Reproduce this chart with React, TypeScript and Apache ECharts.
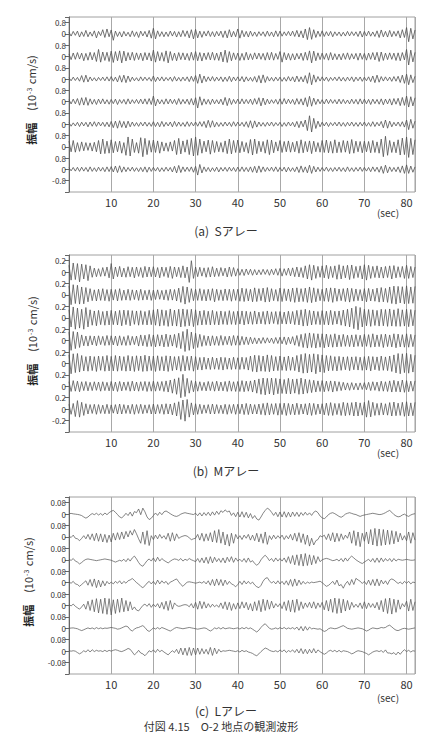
import React, { useEffect, useRef } from 'react';
import * as echarts from 'echarts';

// time axis
const TIME_STEP = 0.5; // seconds between samples
const X_MAX = 82;
const X_INTERVAL = 10;

// ---------- (a) Sアレー : values in 0.01 ×10^-3 cm/s ----------
const S1 = [
  12,-15,18,-10,20,-22,15,-18,25,-20,14,-16,22,-28,18,-12,30,-25,35,-20,
  28,-45,20,-18,15,-22,18,-15,12,-20,22,-18,15,-25,20,-14,18,-22,25,-30,
  40,-35,22,-18,16,-20,14,-18,20,-15,18,-22,16,-20,25,-18,22,-28,30,-35,
  32,-28,20,-24,18,-15,22,-18,16,-20,18,-14,20,-25,22,-28,30,-22,18,-20,
  35,-30,25,-20,18,-22,20,-16,14,-18,16,-12,15,-18,20,-16,14,-20,22,-18,
  20,-16,15,-12,18,-14,20,-18,25,-22,22,-28,35,-40,45,-38,30,-25,20,-18,
  22,-18,16,-14,18,-20,15,-12,14,-16,12,-15,18,-14,16,-12,15,-18,20,-22,
  18,-15,20,-16,14,-18,22,-25,28,-20,18,-22,25,-20,18,-16,22,-28,30,-25,
  45,-55,40,-35,28,
];
const S2 = [
  18,-22,25,-20,28,-18,24,-30,22,-26,30,-24,28,-35,50,-40,32,-28,30,-35,
  38,-42,35,-30,40,-45,38,-32,28,-25,30,-28,26,-22,24,-30,28,-24,26,-32,
  45,-40,35,-30,28,-34,40,-45,35,-28,24,-30,28,-22,26,-24,22,-28,30,-26,
  35,-30,28,-32,25,-22,28,-24,30,-26,24,-28,32,-38,45,-42,35,-30,26,-22,
  24,-28,22,-26,30,-24,20,-22,26,-18,24,-20,22,-26,28,-24,30,-26,22,-20,
  35,-40,28,-24,22,-26,20,-24,22,-18,24,-28,30,-26,40,-45,38,-30,26,-22,
  24,-20,22,-26,28,-24,20,-22,18,-24,22,-20,26,-22,20,-18,22,-26,24,-20,
  22,-26,24,-20,28,-24,30,-35,32,-28,24,-22,26,-20,24,-28,26,-30,28,-24,
  50,-60,45,-38,30,
];
const S3 = [
  10,-12,14,-10,12,-15,25,-22,28,-20,15,-12,10,-14,12,-10,14,-12,16,-14,
  18,-15,14,-20,25,-22,28,-25,22,-18,14,-12,10,-14,16,-12,14,-10,12,-15,
  22,-18,14,-12,16,-14,12,-10,14,-16,18,-14,12,-15,14,-12,16,-18,20,-16,
  25,-30,35,-28,22,-18,16,-14,18,-15,14,-12,16,-18,14,-16,20,-18,15,-12,
  16,-14,18,-20,16,-14,12,-16,18,-22,25,-28,30,-24,18,-14,12,-15,14,-12,
  14,-16,12,-15,18,-14,16,-20,22,-18,16,-20,25,-30,45,-40,30,-22,18,-14,
  16,-12,14,-16,12,-10,14,-12,16,-14,12,-15,14,-12,16,-18,14,-12,15,-16,
  14,-12,16,-18,22,-25,28,-22,18,-14,16,-12,14,-16,18,-15,20,-24,28,-30,
  35,-40,30,-25,20,
];
const S4 = [
  14,-16,18,-15,22,-25,28,-24,30,-26,20,-18,16,-20,18,-15,20,-16,14,-18,
  16,-14,18,-20,15,-12,16,-18,20,-16,14,-12,16,-14,18,-16,20,-18,22,-20,
  40,-30,18,-16,14,-18,20,-16,18,-14,16,-20,22,-18,16,-14,18,-20,22,-24,
  28,-45,35,-25,20,-18,16,-20,18,-15,14,-16,18,-22,30,-28,24,-20,16,-14,
  18,-16,20,-15,16,-14,18,-20,22,-18,28,-30,26,-22,18,-16,14,-12,16,-18,
  20,-18,22,-16,18,-14,16,-20,22,-18,20,-24,28,-35,38,-32,25,-20,18,-15,
  14,-16,18,-14,16,-12,14,-16,18,-15,16,-14,12,-16,18,-14,16,-18,20,-16,
  18,-15,16,-20,18,-14,16,-18,20,-22,18,-16,20,-24,22,-18,24,-28,30,-26,
  40,-38,35,-30,28,
];
const S5 = [
  12,-14,10,-12,14,-16,15,-12,14,-18,16,-14,18,-15,16,-12,14,-16,15,-18,
  20,-24,22,-28,25,-22,20,-26,22,-18,16,-14,12,-15,14,-12,16,-14,12,-15,
  18,-16,14,-18,20,-16,14,-12,16,-18,20,-15,16,-14,12,-16,18,-15,14,-12,
  16,-14,18,-15,20,-24,28,-22,25,-20,14,-16,12,-14,16,-12,14,-16,18,-14,
  15,-12,14,-16,18,-22,25,-28,24,-20,16,-14,12,-15,14,-12,16,-14,12,-10,
  14,-16,12,-14,16,-12,14,-18,20,-24,22,-18,30,-45,60,-55,42,-30,22,-18,
  15,-12,14,-16,12,-10,14,-12,16,-14,12,-15,14,-12,16,-14,12,-15,14,-12,
  16,-14,12,-15,18,-16,14,-12,20,-25,30,-28,22,-18,14,-12,16,-15,18,-20,
  30,-38,35,-28,22,
];
const S6 = [
  40,-35,45,-38,30,-32,35,-28,30,-25,28,-30,32,-35,45,-50,55,-48,40,-45,
  50,-42,38,-35,40,-45,30,-60,70,-65,55,-40,30,-45,65,-70,60,-55,45,-38,
  48,-40,42,-45,35,-30,28,-32,35,-30,45,-55,60,-50,42,-38,50,-55,60,-65,
  70,-60,55,-45,40,-35,48,-52,45,-40,38,-35,30,-38,42,-48,55,-50,45,-40,
  48,-42,38,-35,30,-45,52,-58,55,-48,40,-35,38,-45,50,-55,48,-42,35,-30,
  45,-40,38,-35,42,-38,32,-35,40,-45,50,-42,38,-35,42,-48,40,-35,30,-38,
  45,-40,48,-42,38,-45,50,-42,35,-40,45,-38,42,-48,52,-45,40,-35,38,-42,
  40,-35,38,-42,45,-40,35,-45,55,-70,75,-60,45,-40,35,-42,50,-58,62,-55,
  70,-75,60,-55,50,
];
const S7 = [
  12,-10,14,-12,15,-14,16,-12,14,-16,18,-14,12,-15,16,-12,14,-16,18,-15,
  20,-18,24,-22,26,-20,18,-16,14,-12,16,-14,12,-15,14,-16,18,-20,16,-14,
  15,-12,14,-16,12,-14,16,-12,14,-18,22,-25,28,-22,18,-15,16,-14,18,-20,
  22,-40,35,-25,18,-15,14,-16,12,-14,16,-18,14,-12,15,-14,16,-12,14,-15,
  16,-14,18,-15,14,-16,18,-20,22,-24,25,-20,18,-15,14,-12,16,-14,18,-16,
  14,-12,16,-18,15,-14,12,-16,18,-22,25,-20,18,-24,30,-28,22,-18,16,-14,
  14,-12,16,-14,12,-15,14,-12,16,-14,12,-16,18,-14,12,-15,14,-12,16,-14,
  15,-12,14,-16,18,-14,16,-20,22,-28,30,-24,18,-15,14,-16,18,-22,25,-28,
  32,-28,24,-20,18,
];

// ---------- (b) Mアレー : values in 0.001 ×10^-3 cm/s ----------
const M1 = [
  120,-140,160,-130,150,-170,140,-120,130,-150,110,-90,70,-80,60,-75,80,-70,90,-100,
  150,-120,90,-80,100,-85,70,-90,95,-80,85,-100,90,-75,80,-95,100,-85,90,-80,
  95,-85,80,-100,90,-75,85,-95,100,-110,90,-80,85,-95,110,-100,90,-180,200,-110,
  90,-80,85,-70,75,-90,80,-85,95,-80,70,-75,80,-65,70,-85,90,-75,80,-70,
  60,-55,50,-60,55,-45,50,-55,45,-50,40,-45,50,-40,45,-55,50,-45,60,-55,
  65,-70,60,-55,70,-65,75,-80,90,-85,80,-95,110,-120,130,-140,120,-110,100,-90,
  110,-100,120,-115,100,-95,110,-125,130,-120,110,-100,120,-130,125,-110,100,-95,110,-120,
  130,-140,120,-110,100,-95,110,-100,90,-105,100,-95,110,-120,115,-100,95,-90,100,-110,
  120,-110,100,-95,90,
];
const M2 = [
  160,-170,180,-150,170,-160,140,-155,130,-120,110,-100,90,-105,100,-95,110,-100,95,-110,
  100,-90,95,-105,110,-95,85,-90,100,-95,90,-80,85,-95,100,-90,80,-85,90,-95,
  85,-80,90,-75,80,-85,90,-95,100,-90,95,-105,120,-130,150,-160,140,-130,110,-100,
  100,-95,110,-100,95,-105,100,-95,110,-120,100,-95,90,-100,105,-95,100,-110,100,-95,
  100,-110,120,-115,110,-105,100,-120,125,-115,110,-100,120,-125,130,-120,110,-100,95,-110,
  120,-115,110,-100,105,-115,120,-130,125,-120,110,-115,120,-130,140,-135,125,-120,110,-100,
  100,-110,120,-115,125,-130,120,-110,105,-100,110,-115,120,-125,115,-110,105,-100,95,-105,
  110,-120,115,-105,100,-110,120,-125,130,-120,115,-130,140,-150,155,-160,150,-140,145,-155,
  160,-150,140,-145,150,
];
const M3 = [
  140,-160,190,-200,170,-180,150,-200,180,-160,140,-130,120,-140,130,-120,110,-130,120,-125,
  130,-120,115,-125,130,-140,135,-120,130,-140,125,-115,120,-130,125,-120,110,-125,130,-120,
  140,-130,150,-145,140,-135,130,-150,155,-140,135,-145,150,-160,155,-150,145,-140,150,-155,
  140,-130,120,-125,130,-120,115,-125,130,-120,110,-125,120,-115,110,-120,125,-115,110,-120,
  115,-110,120,-125,115,-110,105,-115,120,-110,100,-105,110,-115,120,-110,105,-100,110,-115,
  110,-105,100,-110,115,-105,110,-120,130,-125,140,-145,150,-140,130,-125,120,-115,110,-120,
  125,-120,115,-125,130,-120,115,-110,120,-130,135,-145,150,-160,170,-190,200,-210,180,-160,
  150,-140,145,-150,140,-135,130,-145,150,-140,145,-150,155,-145,140,-150,160,-150,140,-145,
  150,-155,145,-140,135,
];
const M4 = [
  150,-170,160,-140,150,-120,100,-90,80,-95,85,-75,80,-90,85,-70,75,-85,90,-80,
  85,-75,80,-90,85,-80,70,-85,90,-80,75,-70,80,-95,100,-90,95,-105,110,-100,
  100,-110,105,-95,100,-110,115,-105,100,-95,110,-120,130,-140,160,-190,200,-170,150,-140,
  130,-120,110,-100,90,-85,80,-90,85,-80,75,-85,90,-80,75,-70,80,-85,90,-80,
  85,-80,75,-70,65,-70,60,-55,50,-55,45,-50,55,-45,50,-40,45,-50,55,-50,
  60,-55,65,-70,60,-55,70,-80,90,-100,110,-120,125,-130,135,-120,125,-130,120,-115,
  120,-125,115,-110,105,-115,120,-110,100,-105,110,-100,95,-105,100,-110,105,-100,95,-105,
  110,-100,105,-115,120,-110,100,-105,110,-120,115,-105,100,-110,120,-125,115,-110,105,-115,
  120,-115,110,-105,100,
];
const M5 = [
  150,-180,170,-160,175,-150,140,-130,120,-135,130,-125,120,-140,130,-120,125,-135,140,-130,
  125,-130,140,-135,130,-125,120,-135,140,-130,125,-140,135,-125,130,-140,145,-135,130,-125,
  130,-140,135,-125,120,-130,135,-140,130,-125,120,-115,125,-135,140,-130,125,-120,130,-135,
  120,-110,105,-115,110,-100,95,-105,110,-100,95,-105,110,-115,105,-100,95,-105,110,-100,
  100,-105,110,-100,105,-115,130,-140,145,-150,140,-135,130,-140,150,-145,140,-130,120,-125,
  130,-120,115,-125,130,-120,110,-125,140,-150,160,-170,175,-165,160,-150,170,-180,160,-150,
  150,-160,140,-130,135,-125,120,-130,125,-120,115,-110,120,-125,115,-110,120,-115,110,-120,
  120,-115,125,-130,120,-110,115,-125,130,-120,115,-125,130,-140,150,-165,175,-180,170,-160,
  180,-170,160,-150,145,
];
const M6 = [
  80,-90,100,-85,90,-95,80,-75,85,-80,70,-75,80,-70,75,-85,80,-75,70,-80,
  85,-80,75,-90,85,-80,75,-70,80,-85,90,-80,75,-85,80,-75,85,-90,80,-85,
  90,-85,80,-75,85,-90,95,-100,110,-120,130,-140,150,-200,210,-180,140,-120,100,-95,
  90,-85,80,-75,70,-80,85,-75,80,-85,90,-80,75,-80,85,-90,95,-85,80,-90,
  85,-90,100,-95,90,-85,95,-100,110,-120,130,-140,145,-150,140,-135,145,-150,140,-130,
  130,-125,120,-130,140,-135,125,-120,130,-140,145,-135,125,-120,115,-110,105,-100,95,-90,
  100,-95,90,-85,95,-100,90,-85,80,-75,70,-65,60,-70,65,-60,55,-65,60,-55,
  65,-60,70,-75,80,-70,75,-85,90,-85,80,-90,95,-100,105,-95,90,-100,110,-105,
  100,-95,90,-85,95,
];
const M7 = [
  85,-90,100,-130,150,-140,120,-110,95,-85,80,-75,85,-90,80,-75,70,-80,85,-80,
  75,-70,80,-85,90,-85,80,-75,70,-80,85,-90,80,-75,85,-80,75,-70,80,-85,
  90,-85,80,-75,85,-90,95,-85,90,-100,110,-120,130,-180,160,-210,170,-140,110,-100,
  95,-90,85,-80,75,-70,80,-85,90,-85,80,-75,70,-80,85,-90,80,-75,85,-90,
  85,-80,90,-95,100,-95,90,-85,80,-85,90,-95,100,-105,110,-100,95,-90,100,-105,
  100,-95,105,-110,100,-95,90,-100,105,-95,90,-85,95,-100,105,-110,100,-95,90,-85,
  95,-100,105,-110,115,-110,100,-95,100,-110,120,-115,110,-105,115,-120,125,-120,110,-105,
  120,-140,150,-135,120,-110,100,-105,110,-100,95,-105,115,-120,125,-115,105,-110,120,-125,
  130,-120,110,-115,120,
];

// ---------- (c) Lアレー : values in 0.0001 ×10^-3 cm/s ----------
const L1 = [
  30,50,20,0,-20,-50,-100,-200,-280,-200,-60,40,-40,60,-60,40,-80,80,-40,100,
  200,260,130,-30,-200,-260,-130,60,-100,140,-140,180,100,360,-40,420,160,-200,-380,-290,
  -100,80,-90,130,-40,160,220,130,30,-60,-130,-160,-100,0,60,100,60,30,0,-30,
  60,-110,90,-130,110,-90,130,-110,160,-70,200,-20,240,120,300,160,220,-90,90,-180,
  130,-200,170,-220,130,-260,40,-300,-100,-340,-420,-200,60,260,420,320,130,-90,130,-180,
  150,-200,170,-220,130,-200,150,-150,130,-170,110,-90,130,-70,90,-90,130,220,100,-130,
  -260,-320,-200,-30,60,100,30,-60,-160,-220,-130,0,60,100,50,0,-30,-100,-160,-100,
  -60,-30,0,30,60,30,0,-30,-20,30,100,190,260,130,-30,-130,-190,-160,-60,0,
  -100,-160,-60,0,30,
];
const L2 = [
  60,-40,130,-90,-130,-260,-100,90,-130,180,-180,220,-260,260,-300,220,-350,180,-390,130,
  -350,260,-220,300,-180,350,-130,390,0,440,130,520,220,-130,-440,350,-520,440,-600,90,
  -180,130,-130,180,-90,90,-160,260,-300,300,-260,220,-100,0,60,100,60,-60,-190,-130,
  -90,180,-220,260,-300,220,-260,300,-350,440,-390,520,-440,350,-560,180,-640,260,-440,180,
  -130,90,-180,130,-90,180,-220,130,-260,260,-350,220,-440,350,-520,90,-180,130,-130,90,
  -90,130,-180,90,-130,180,-220,260,-300,300,-390,220,-520,130,-640,-90,-560,-260,-180,90,
  0,130,-180,220,-260,300,-350,260,-300,220,-180,130,-90,350,-440,440,-600,350,-680,260,
  -300,350,-480,520,-560,600,-640,560,-600,520,-560,480,-520,440,-480,390,-350,260,-220,90,
  -260,350,-440,300,-220,
];
const L3 = [
  30,-40,90,-90,-160,-290,-190,-60,30,60,30,0,-30,-60,-30,0,30,60,30,0,
  -30,-100,-160,-100,-30,-90,40,-130,90,-90,130,260,60,-190,-380,-450,-260,-60,60,-90,
  130,-130,180,-90,90,-40,-130,-220,-100,0,60,30,-40,90,-90,40,-40,90,0,-60,
  -130,90,-180,130,-220,180,-260,220,-220,180,-130,90,-180,130,-220,180,-130,220,-180,130,
  -90,40,-130,90,-180,130,-160,-60,-260,-380,-260,0,190,320,160,-60,90,-130,130,-90,
  90,-90,130,-180,220,-260,300,-350,350,-400,400,-440,440,-400,350,-350,300,-260,220,-130,
  0,60,100,60,0,-60,-30,40,-90,90,-130,130,-90,130,260,130,0,-100,-190,-260,
  -160,-60,40,-130,90,-180,130,-180,130,-130,90,-90,90,-130,90,-90,40,0,-30,0,
  30,0,-30,-30,0,
];
const L4 = [
  30,-40,90,-90,-130,-260,-130,0,130,-180,220,-260,260,-350,180,-300,130,-220,90,-90,
  40,-90,90,-40,130,-90,90,-40,130,190,290,160,0,-100,-260,-350,-220,-30,90,-90,
  90,-130,180,-90,130,-40,90,-130,40,100,190,260,60,-130,-260,-100,30,60,30,0,
  -40,0,40,-40,90,-90,130,-180,220,-220,260,-180,220,-220,180,-130,90,-90,-160,-290,
  -130,90,-130,130,-90,90,-90,40,-160,-290,-350,-190,100,290,350,130,-30,90,-90,130,
  -90,90,-130,130,-180,220,-260,260,-220,180,-130,90,-90,40,-40,40,0,30,60,100,
  0,-130,-260,-190,-60,90,-130,180,-220,-130,-390,-90,90,-180,220,-130,300,190,100,-60,
  90,-130,180,-180,220,-220,260,-220,180,-90,130,-130,180,260,190,60,-60,40,-90,90,
  -40,90,-90,40,0,
];
const L5 = [
  60,-30,100,-60,-160,-260,-100,90,-260,300,-350,400,-440,480,-520,440,-560,520,-620,480,
  -660,400,-560,440,-480,520,-440,350,-390,260,-300,-100,-320,-380,-190,0,100,-60,130,-130,
  90,-90,130,-180,220,-260,300,-350,350,-260,180,0,-60,-30,30,60,30,-90,130,-180,
  220,-260,300,-220,260,-180,130,-130,90,-90,40,-130,180,-220,260,-300,220,-350,130,-260,
  180,-220,260,-180,220,-300,130,-390,260,-350,350,-440,440,-350,390,-260,300,-180,130,-90,
  130,-220,260,-350,350,-440,390,-480,440,-350,260,-220,180,-130,220,-180,260,-220,180,-130,
  220,-300,350,-390,440,-480,520,-560,480,-520,440,-390,350,-300,220,-130,90,-130,180,-220,
  260,-220,180,-130,130,-180,220,-300,350,-440,480,-560,520,-600,440,-480,390,-260,130,-90,
  300,-390,440,-350,260,
];
const L6 = [
  0,20,30,0,-30,-100,-160,-100,-30,30,-30,30,-50,50,-30,30,-30,20,0,30,
  60,30,0,-60,-30,30,100,160,100,-100,-190,-60,30,60,130,190,60,-130,-220,-100,
  30,-50,50,-50,60,0,-60,-130,-190,-100,0,60,30,0,-30,0,30,60,30,0,
  -30,-60,-30,0,30,0,-100,-190,-100,30,-30,50,-50,60,-30,0,30,0,-30,0,
  30,-50,50,-30,60,-30,30,-60,-160,-260,-130,60,220,320,160,0,-60,-30,30,-50,
  50,-30,60,-50,30,-30,50,-60,90,-130,130,-180,130,-130,90,-40,0,-30,-60,-30,
  -130,-220,-160,-30,30,0,-30,0,60,130,190,100,0,-30,-60,-30,0,30,0,-30,
  -100,-190,-130,-30,30,0,-30,0,60,30,60,160,220,100,-30,-130,-160,-100,-30,0,
  -30,-60,-30,0,30,
];
const L7 = [
  30,0,30,0,-100,-190,-100,30,-60,100,-60,100,-30,60,0,30,-30,60,-30,60,
  0,60,100,60,0,-30,30,100,190,130,-60,-260,-130,60,-130,-190,-320,-160,30,-60,
  90,-90,130,-40,60,-60,-160,-260,-100,30,-90,130,-180,220,-260,220,-300,260,-300,220,
  -260,220,-220,180,-180,130,-220,260,-300,220,-180,130,-60,30,0,30,60,30,0,-30,
  30,-60,60,-30,30,-60,-100,-160,-260,-320,-190,-30,100,220,160,60,0,-30,30,-60,
  90,-40,90,-90,40,-40,90,-90,130,-130,180,-180,130,-180,130,-130,180,-130,90,-40,
  -130,-220,-130,0,60,-30,60,-60,60,-60,30,0,-30,-100,-190,-130,-30,30,0,-30,
  -100,-160,-260,-160,-60,0,30,-30,40,-90,90,-130,-130,-190,-100,-260,-60,-220,-30,100,
  -30,60,-60,30,0,
];

// tick label texts
const S_LABELS = { pos: '0.8', zero: '0', neg: '-0.8' };
const M_LABELS = { pos: '0.2', zero: '0', neg: '-0.2' };
const L_LABELS = { pos: '0.08', zero: '0', neg: '-0.08' };

const CAPTIONS = ['(a)  Sアレー', '(b)  Mアレー', '(c)  Lアレー'];
const FIG_CAPTION = '付図 4.15　O-2 地点の観測波形';
const Y_NAME = '{b|振幅}　{n|(10}{sup|-3}{n| cm/s)}';

const TRACE_COLOR = '#505050';
const FONT = '"Noto Sans CJK JP", "Noto Sans", sans-serif';

const PANELS = [
  { traces: [S1, S2, S3, S4, S5, S6, S7], unit: 0.01, interval: 0.8, labels: S_LABELS,
    top: 17, height: 175, nameX: 31, nameY: 100, width: 0.8 },
  { traces: [M1, M2, M3, M4, M5, M6, M7], unit: 0.001, interval: 0.2, labels: M_LABELS,
    top: 255, height: 177, nameX: 32, nameY: 341, width: 0.75 },
  { traces: [L1, L2, L3, L4, L5, L6, L7], unit: 0.0001, interval: 0.08, labels: L_LABELS,
    top: 497, height: 177, nameX: 28, nameY: 582, width: 0.7 },
];

function buildOption() {
  const grid: any[] = [];
  const xAxis: any[] = [];
  const yAxis: any[] = [];
  const series: any[] = [];
  const graphic: any[] = [];
  PANELS.forEach((p, pi) => {
    const spacing = p.interval * 2;
    const n = p.traces.length;
    const min = -2 * p.interval;
    const max = (2 * (n - 1) + 1.5) * p.interval;
    grid.push({ left: 69, right: 19, top: p.top, height: p.height, show: true,
      borderColor: '#a0a0a0', borderWidth: 1, backgroundColor: 'transparent' });
    xAxis.push({
      type: 'value', gridIndex: pi, min: 0, max: X_MAX, interval: X_INTERVAL,
      axisLine: { show: false }, axisTick: { show: false },
      splitLine: { show: true, lineStyle: { color: '#a8a8a8', width: 1 } },
      axisLabel: {
        color: '#333', fontSize: 11, margin: 4, fontFamily: FONT,
        formatter: (v: number) => (v > 0 && Math.abs(v % X_INTERVAL) < 1e-6 ? String(v) : ''),
      },
    });
    yAxis.push({
      type: 'value', gridIndex: pi, min, max, interval: p.interval,
      axisLine: { show: true, lineStyle: { color: '#666', width: 1 } },
      axisTick: { show: true, length: 4, lineStyle: { color: '#666' } },
      splitLine: { show: false },
      axisLabel: {
        color: '#333', fontSize: 8, lineHeight: 8, margin: 3, fontFamily: FONT,
        formatter: (v: number) => {
          const k = v / p.interval;
          const r = Math.round(k);
          if (Math.abs(k - r) > 0.01) return '';
          if (r === -2) return '';
          if (r === -1) return p.labels.neg;
          return r % 2 === 0 ? p.labels.zero : p.labels.pos;
        },
      },
    });
    p.traces.forEach((tr, ti) => {
      const offset = (n - 1 - ti) * spacing;
      series.push({
        type: 'line', xAxisIndex: pi, yAxisIndex: pi, showSymbol: false, silent: true,
        lineStyle: { color: TRACE_COLOR, width: p.width },
        data: tr.map((v, i) => [i * TIME_STEP, offset + v * p.unit]),
      });
    });
    graphic.push({
      type: 'text', x: p.nameX, y: p.nameY, rotation: Math.PI / 2,
      style: {
        text: Y_NAME, align: 'center', verticalAlign: 'middle', fill: '#333', fontFamily: FONT,
        rich: {
          b: { fontSize: 11, fontWeight: 'bold', fill: '#222', fontFamily: FONT },
          n: { fontSize: 11, fill: '#333', fontFamily: FONT },
          sup: { fontSize: 7, verticalAlign: 'top', padding: [0, 1, 5, 1], fill: '#333', fontFamily: FONT },
        },
      },
    });
  });

  const secY = [212, 452, 697];
  const capY = [230, 470, 710];
  secY.forEach((y) => graphic.push({ type: 'text', x: 388, y, style: {
    text: '(sec)', fill: '#333', fontSize: 10, fontFamily: FONT, align: 'center', verticalAlign: 'middle' } }));
  CAPTIONS.forEach((c, i) => graphic.push({ type: 'text', x: 226, y: capY[i], style: {
    text: c, fill: '#333', fontSize: 12, fontFamily: FONT, align: 'center', verticalAlign: 'middle' } }));
  graphic.push({ type: 'text', x: 221, y: 726, style: {
    text: FIG_CAPTION, fill: '#333', fontSize: 11, fontFamily: FONT, align: 'center', verticalAlign: 'middle' } });

  return { animation: false, backgroundColor: '#ffffff', grid, xAxis, yAxis, series, graphic };
}

export default function App() {
  const ref = useRef<HTMLDivElement>(null);
  useEffect(() => {
    if (!ref.current) return;
    const chart = echarts.init(ref.current, undefined, { renderer: 'svg' });
    chart.setOption(buildOption() as any);
    return () => chart.dispose();
  }, []);
  return (
    <div ref={ref} style={{ position: 'fixed', left: 0, top: 0, width: 434, height: 755, background: '#fff' }} />
  );
}
